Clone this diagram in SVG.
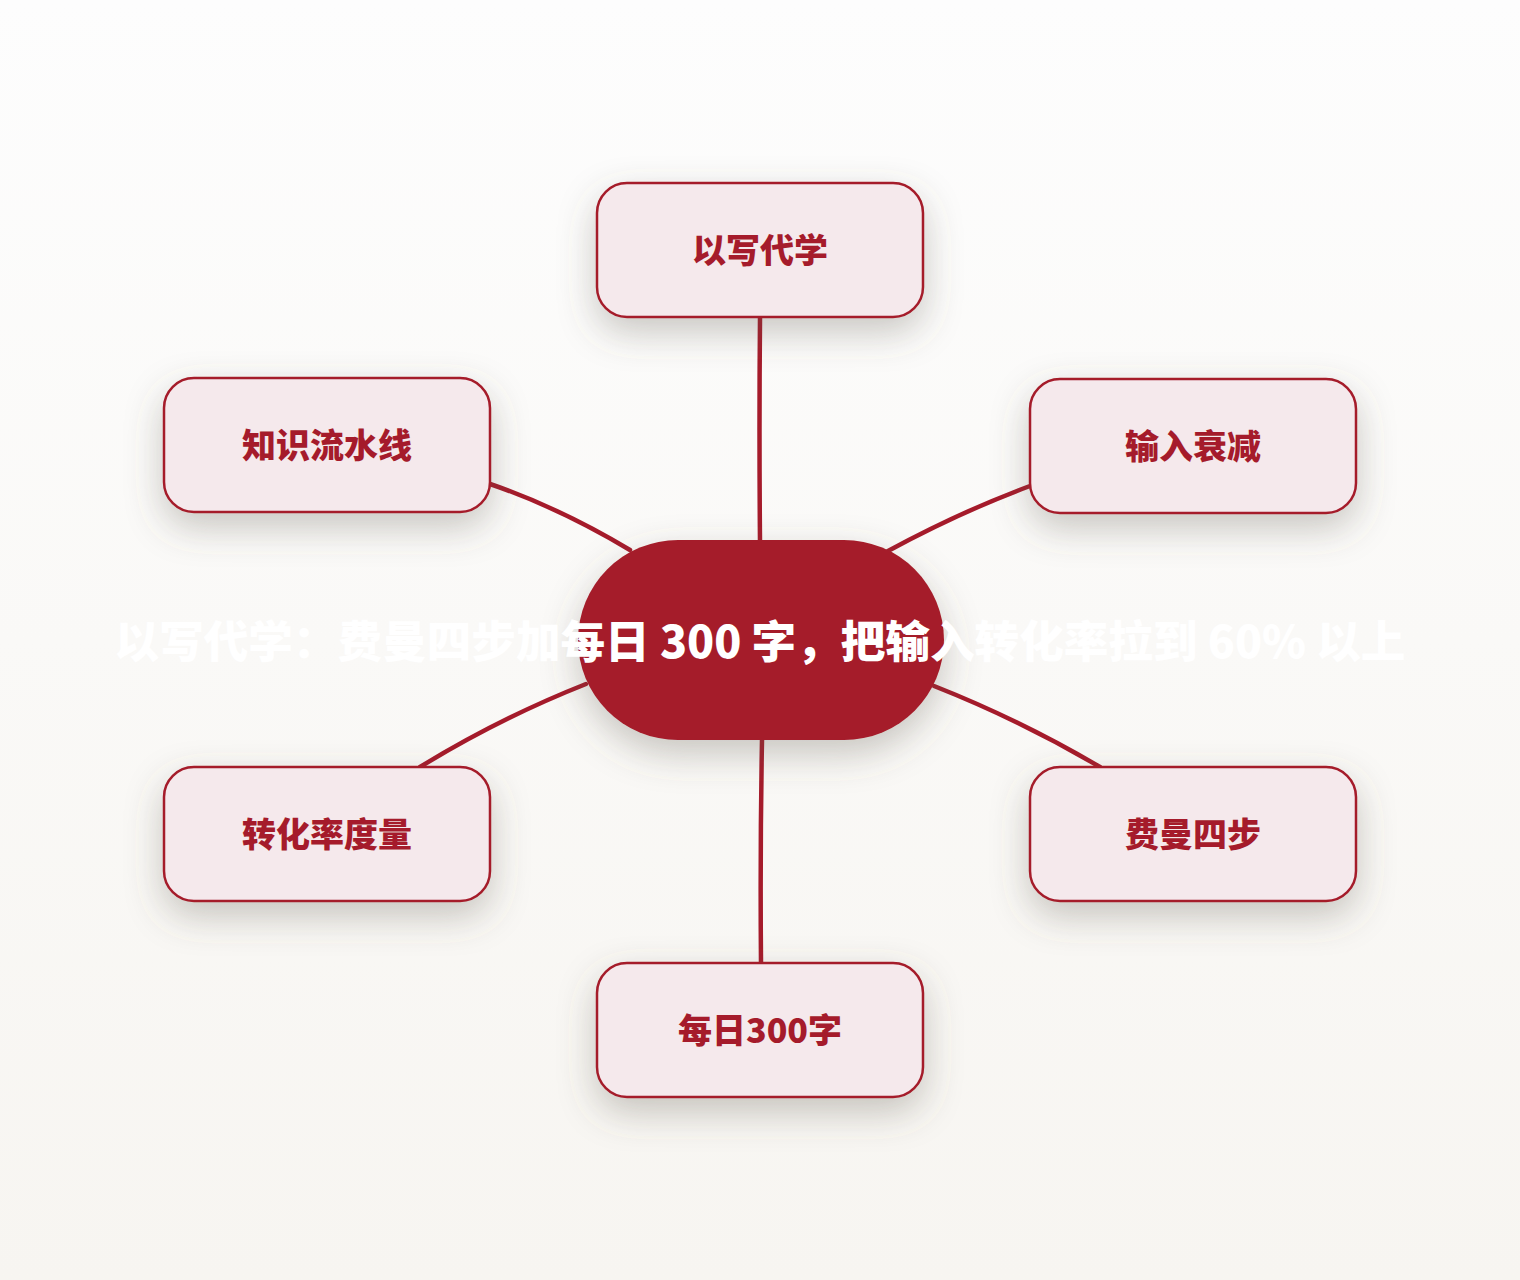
<svg xmlns="http://www.w3.org/2000/svg" width="1520" height="1280" viewBox="0 0 1520 1280">
<defs>
<linearGradient id="bg" x1="0" y1="0" x2="0" y2="1">
<stop offset="0" stop-color="#fdfdfd"/>
<stop offset="1" stop-color="#f7f5f1"/>
</linearGradient>
<filter id="sh" x="-40%" y="-40%" width="180%" height="200%">
<feDropShadow dx="0" dy="14" stdDeviation="18" flood-color="#5e564e" flood-opacity="0.32"/>
</filter>
</defs>
<style>
.edge{fill:none;stroke:#a51b2b;stroke-width:4.5;stroke-linecap:round}
.box{fill:#f5e9ec;stroke:#a51b2b;stroke-width:2.5;filter:url(#sh)}
.lbl{font-family:"Noto Sans CJK SC","Noto Sans",sans-serif;font-weight:900;font-size:34px;fill:#a51b2b;text-anchor:middle}
.hub{fill:#a51b2b;filter:url(#sh)}
.hubt{font-family:"Noto Sans CJK SC","Noto Sans",sans-serif;font-weight:800;font-size:44.6px;fill:#ffffff;text-anchor:middle}
</style>
<rect width="1520" height="1280" fill="url(#bg)"/>
<g id="connectors">
<path class="edge" d="M760,318 Q759,430 760,542"/>
<path class="edge" d="M490,484 Q560,508 630,550"/>
<path class="edge" d="M1030,486 Q960,512 888,551"/>
<path class="edge" d="M586,684 Q500,718 420,767"/>
<path class="edge" d="M934,686 Q1020,720 1100,767"/>
<path class="edge" d="M762,740 Q760,850 761,963"/>
</g>
<g id="node-center">
<rect class="hub" x="578" y="540" width="366" height="200" rx="100" ry="100"/>
<text class="hubt" x="760" y="658">以写代学：费曼四步加每日 300 字，把输入转化率拉到 60% 以上</text>
</g>
<g id="node-top">
<rect class="box" x="597" y="183" width="326" height="134" rx="30"/>
<text class="lbl" x="760" y="263">以写代学</text>
</g>
<g id="node-ul">
<rect class="box" x="164" y="378" width="326" height="134" rx="30"/>
<text class="lbl" x="327" y="458">知识流水线</text>
</g>
<g id="node-ur">
<rect class="box" x="1030" y="379" width="326" height="134" rx="30"/>
<text class="lbl" x="1193" y="459">输入衰减</text>
</g>
<g id="node-ll">
<rect class="box" x="164" y="767" width="326" height="134" rx="30"/>
<text class="lbl" x="327" y="847">转化率度量</text>
</g>
<g id="node-lr">
<rect class="box" x="1030" y="767" width="326" height="134" rx="30"/>
<text class="lbl" x="1193" y="847">费曼四步</text>
</g>
<g id="node-bottom">
<rect class="box" x="597" y="963" width="326" height="134" rx="30"/>
<text class="lbl" x="760" y="1043">每日300字</text>
</g>
</svg>
